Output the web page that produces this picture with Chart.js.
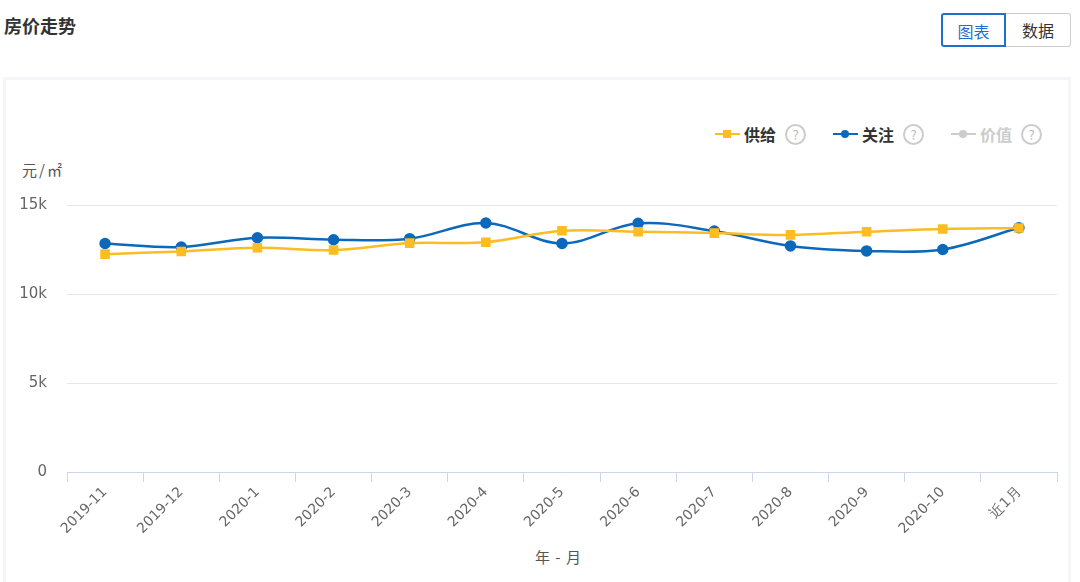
<!DOCTYPE html>
<html>
<head>
<meta charset="utf-8">
<script src="https://cdn.jsdelivr.net/npm/chart.js@4"></script>
<style>
  body { margin:0; width:1080px; height:582px; background:#fff; font-family:"Noto Sans CJK SC","Noto Sans",sans-serif; overflow:hidden; position:relative; }
  #title { position:absolute; left:4px; top:12px; font-size:18px; font-weight:bold; color:#333; }
  .btns { position:absolute; left:941px; top:13px; display:flex; }
  .btn { width:65px; height:34px; line-height:33px; text-align:center; font-size:16px; box-sizing:border-box; }
  .btn.on { border:2px solid #1e6fd0; color:#1e6fd0; border-radius:3px 0 0 3px; }
  .btn.off { border:1px solid #ccc; border-left:none; color:#333; border-radius:0 3px 3px 0; }
  #panel { position:absolute; left:3px; top:77px; width:1068px; height:520px; border:3px solid #f5f6f8; box-sizing:border-box; }
  #legend { position:absolute; top:123px; left:715px; display:flex; font-size:16px; font-weight:bold; }
  .item { display:flex; align-items:center; margin-right:27px; height:22px; }
  .mk { position:relative; width:25px; height:22px; margin-right:4px; }
  .mk .ln { position:absolute; left:0; top:10px; width:25px; height:2px; }
  .mk .pt { position:absolute; left:8px; top:7px; width:8px; height:8px; }
  .q { width:17px; height:17px; border:2px solid #ccc; border-radius:50%; color:#bbb; font-size:13px; line-height:17px; text-align:center; font-weight:normal; margin-left:9px; }
  #ytitle { position:absolute; left:22px; top:159px; font-size:15px; color:#555; letter-spacing:2px; }
  #xtitle { position:absolute; left:535px; top:546px; font-size:15px; color:#555; letter-spacing:1px; }
  #wrap { position:absolute; left:0; top:0; width:1080px; height:582px; }
</style>
</head>
<body>
<div id="title">房价走势</div>
<div class="btns"><div class="btn on">图表</div><div class="btn off">数据</div></div>
<div id="panel"></div>
<div id="legend"></div>
<div id="ytitle">元/㎡</div>
<div id="xtitle">年 - 月</div>
<div id="wrap"><canvas id="c"></canvas></div>
<script>
const months = ["2019-11","2019-12","2020-1","2020-2","2020-3","2020-4","2020-5","2020-6","2020-7","2020-8","2020-9","2020-10","近1月"];
const supply = [12240,12390,12600,12470,12860,12910,13550,13500,13420,13320,13500,13650,13710];
const attention = [12840,12640,13160,13050,13110,13990,12840,13970,13540,12700,12420,12500,13720];
const value = [];
const seriesNames = ["供给","关注","价值"];
const seriesColors = ["#fdbc21","#0c68bb","#cccccc"];
const yTicks = [0,5000,10000,15000];

// legend
const legend = document.getElementById("legend");
seriesNames.forEach((name, i) => {
  const hidden = i === 2;
  const item = document.createElement("div");
  item.className = "item";
  const pt = i === 0 ? "" : "border-radius:50%;";
  item.innerHTML = "<div class='mk'><div class='ln' style='background:" + seriesColors[i] + "'></div><div class='pt' style='background:" + seriesColors[i] + ";" + pt + "'></div></div>" +
    "<span style='color:" + (hidden ? "#ccc" : "#333") + "'>" + name + "</span><div class='q'>?</div>";
  legend.appendChild(item);
});

new Chart(document.getElementById("c"), {
  type: "line",
  data: { labels: months, datasets: [
    { label: seriesNames[0], data: supply, borderColor: seriesColors[0], backgroundColor: seriesColors[0], pointStyle: "rect", pointRadius: 5, borderWidth: 2.5, tension: 0.35 },
    { label: seriesNames[1], data: attention, borderColor: seriesColors[1], backgroundColor: seriesColors[1], pointStyle: "circle", pointRadius: 4.5, borderWidth: 2.5, tension: 0.35 },
    { label: seriesNames[2], data: value, borderColor: seriesColors[2], backgroundColor: seriesColors[2], hidden: true }
  ]},
  options: {
    responsive: true, maintainAspectRatio: false, animation: false,
    layout: { padding: { left: 0, top: 205, right: 23, bottom: 0 } },
    plugins: { legend: { display: false }, tooltip: { enabled: false } },
    scales: {
      x: {
        offset: true,
        afterFit: s => { s.height = 110; },
        border: { color: "#ccd6eb" },
        grid: { offset: true, drawOnChartArea: false, drawTicks: true, tickLength: 10, color: "#ccd6eb" },
        ticks: { minRotation: 45, maxRotation: 45, color: "#666", font: { size: 14, family: "'DejaVu Sans', sans-serif" }, padding: 2 }
      },
      y: {
        min: 0, max: 15000,
        afterFit: s => { s.width = 67; },
        afterBuildTicks: s => { s.ticks = yTicks.map(v => ({ value: v })); },
        border: { display: false },
        grid: { color: ctx => ctx.tick.value === 0 ? "rgba(0,0,0,0)" : "#e6e6e6", drawTicks: false },
        ticks: { color: "#666", padding: 20, font: { size: 15, family: "'DejaVu Sans', sans-serif" }, callback: v => v === 0 ? "0" : (v / 1000) + "k" }
      }
    }
  }
});
</script>
</body>
</html>
